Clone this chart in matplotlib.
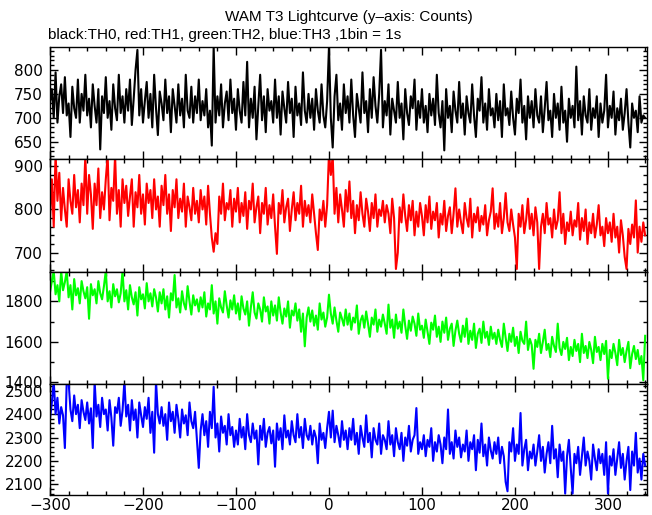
import matplotlib
matplotlib.use('Agg')
import matplotlib.pyplot as plt
import numpy as np
from matplotlib.ticker import MultipleLocator

plt.rcParams['font.family'] = 'DejaVu Sans'

# time bins (s), 2 s steps from -300 to 340
time = np.arange(-300, 341, 2)

# TH0 counts (black)
th0 = [
    735, 760, 700, 795, 690, 745, 770, 710, 785, 705, 730, 660, 765, 720, 700, 780, 690, 750, 715, 790,
    705, 740, 680, 770, 725, 690, 760, 634, 745, 710, 785, 700, 735, 675, 770, 720, 695, 790, 710, 745,
    690, 760, 715, 780, 685, 740, 800, 842, 705, 760, 690, 735, 775, 700, 750, 680, 790, 720, 664, 755,
    730, 695, 780, 710, 745, 670, 760, 725, 690, 770, 705, 740, 680, 790, 715, 700, 765, 690, 745, 710,
    780, 695, 735, 705, 760, 680, 715, 642, 848, 690, 745, 705, 770, 680, 730, 755, 695, 780, 710, 740,
    675, 760, 715, 690, 775, 705, 817, 680, 740, 700, 765, 655, 725, 790, 695, 745, 670, 760, 715, 735,
    690, 780, 700, 745, 665, 755, 720, 690, 775, 710, 740, 660, 765, 705, 730, 685, 795, 715, 690, 750,
    700, 740, 675, 760, 715, 690, 770, 705, 680, 735, 848, 700, 638, 745, 790, 695, 730, 675, 770, 710,
    745, 690, 780, 705, 660, 750, 720, 690, 795, 710, 735, 670, 760, 700, 785, 725, 690, 750, 842, 680,
    735, 705, 770, 665, 740, 715, 690, 775, 700, 730, 655, 760, 710, 685, 745, 720, 780, 675, 735, 700,
    760, 690, 725, 670, 750, 705, 740, 685, 790, 710, 680, 735, 632, 760, 700, 725, 670, 755, 715, 690,
    775, 700, 730, 665, 745, 710, 690, 770, 705, 660, 740, 715, 785, 690, 730, 675, 760, 705, 720, 680,
    750, 695, 735, 660, 770, 705, 720, 685, 755, 700, 665, 740, 710, 780, 690, 725, 655, 745, 700, 735,
    680, 760, 705, 690, 745, 670, 720, 775, 695, 715, 660, 750, 700, 730, 675, 765, 690, 715, 650, 740,
    700, 725, 680, 807, 695, 735, 665, 745, 705, 690, 760, 675, 720, 700, 745, 660, 730, 690, 715, 790,
    680, 725, 700, 755, 665, 720, 695, 740, 675, 710, 760, 690, 638, 730, 700, 715, 670, 745, 690, 705,
    700,
]

# TH1 counts (red)
th1 = [
    780, 870, 760, 930, 820, 885, 775, 850, 800, 760, 870, 820, 790, 880, 805, 845, 770, 860, 810, 925,
    790, 880, 835, 755, 860, 810, 895, 780, 840, 800, 870, 925, 775, 850, 820, 925, 790, 845, 760, 870,
    815, 855, 785, 830, 870, 760, 840, 805, 880, 790, 835, 765, 860, 815, 845, 780, 870, 800, 830, 760,
    855, 810, 880, 790, 835, 750, 845, 805, 870, 780, 825, 795, 860, 760, 830, 805, 775, 850, 790, 820,
    770, 845, 800, 830, 765, 855, 790, 735, 702, 745, 720, 830, 790, 860, 775, 815, 800, 845, 760, 825,
    795, 850, 770, 815, 785, 840, 755, 820, 800, 860, 770, 805, 830, 745, 815, 790, 850, 765, 810, 780,
    835, 760, 697, 815, 790, 845, 770, 805, 825, 750, 800, 840, 775, 815, 790, 855, 760, 820, 785, 810,
    770, 835, 790, 745, 706, 800, 775, 820, 760, 810, 930, 880, 925, 790, 850, 770, 835, 800, 760, 845,
    795, 865, 780, 820, 745, 810, 775, 840, 790, 760, 825, 795, 750, 815, 780, 835, 760, 800, 785, 820,
    770, 810, 790, 745, 825, 780, 662, 700, 805, 770, 835, 785, 750, 810, 775, 820, 740, 795, 760, 815,
    785, 740, 810, 770, 830, 755, 795, 775, 815, 735, 790, 765, 820, 750, 785, 805, 745, 790, 849, 760,
    800, 770, 745, 815, 780, 760, 825, 735, 790, 770, 805, 750, 785, 765, 810, 740, 775, 795, 849, 755,
    790, 760, 815, 745, 780, 838, 770, 750, 800, 765, 735, 662, 790, 760, 810, 745, 775, 825, 755, 790,
    740, 805, 770, 662, 760, 790, 745, 815, 765, 780, 735, 800, 755, 775, 840, 745, 790, 720, 770, 750,
    795, 740, 775, 760, 815, 730, 780, 750, 800, 720, 770, 745, 790, 735, 765, 810, 740, 760, 715, 780,
    745, 770, 725, 790, 735, 760, 700, 775, 740, 690, 662, 755, 720, 765, 735, 821, 700, 760, 725, 770,
    740,
]

# TH2 counts (green)
th2 = [
    1845, 1900, 1950, 1835, 1880, 1800, 1950, 1855, 1895, 1950, 1820, 1880, 1760, 1910, 1830, 1865, 1790, 1900, 1850, 1815,
    1870, 1714, 1885, 1830, 1860, 1790, 1900, 1840, 1810, 1875, 1950, 1800, 1850, 1770, 1885, 1825, 1860, 1795, 1840, 1950,
    1800, 1855, 1760, 1880, 1820, 1785, 1845, 1730, 1870, 1810, 1835, 1765, 1890, 1800, 1840, 1775, 1860, 1820, 1750, 1845,
    1790, 1860, 1760, 1825, 1720, 1840, 1805, 1930, 1770, 1815, 1745, 1850, 1790, 1760, 1875, 1800, 1735, 1830, 1780, 1810,
    1750, 1820, 1770, 1845, 1725, 1790, 1760, 1880, 1740, 1800, 1690, 1815, 1770, 1745, 1850, 1780, 1720, 1805, 1760, 1830,
    1740, 1790, 1710, 1825, 1765, 1735, 1800, 1680, 1770, 1845, 1745, 1715, 1790, 1760, 1700, 1820, 1750, 1775, 1690, 1800,
    1730, 1780, 1705, 1820, 1745, 1690, 1765, 1725, 1800, 1670, 1755, 1730, 1790, 1705, 1760, 1650, 1740, 1578, 1720, 1770,
    1700, 1755, 1680, 1730, 1660, 1790, 1710, 1745, 1675, 1720, 1833, 1740, 1690, 1770, 1705, 1650, 1745, 1715, 1680, 1760,
    1685, 1740, 1660, 1720, 1695, 1780, 1640, 1705, 1730, 1670, 1750, 1690, 1625, 1720, 1685, 1760, 1650, 1710, 1675, 1735,
    1690, 1640, 1784, 1670, 1710, 1620, 1735, 1665, 1700, 1645, 1760, 1680, 1615, 1705, 1655, 1725, 1690, 1630, 1740, 1660,
    1680, 1620, 1710, 1650, 1590, 1695, 1660, 1730, 1625, 1675, 1600, 1700, 1645, 1720, 1610, 1665, 1690, 1580, 1655, 1705,
    1640, 1600, 1680, 1625, 1715, 1590, 1655, 1610, 1690, 1570, 1640, 1665, 1595, 1700, 1620, 1650, 1585, 1675, 1615, 1645,
    1590, 1660, 1610, 1575, 1690, 1620, 1555, 1640, 1600, 1670, 1580, 1625, 1545, 1650, 1605, 1590, 1700, 1560, 1615, 1585,
    1467, 1610, 1575, 1640, 1545, 1600, 1660, 1560, 1590, 1525, 1625, 1580, 1550, 1690, 1570, 1535, 1600, 1565, 1620, 1510,
    1575, 1530, 1610, 1555, 1590, 1500, 1640, 1545, 1580, 1520, 1600, 1560, 1495, 1625, 1550, 1575, 1510, 1590, 1540, 1605,
    1418, 1560, 1520, 1590, 1545, 1485, 1610, 1535, 1570, 1500, 1555, 1600, 1470, 1540, 1580, 1515, 1560, 1490, 1530, 1410,
    1630,
]

# TH3 counts (blue)
th3 = [
    2380, 2450, 2540, 2400, 2470, 2360, 2430, 2395, 2255, 2540, 2540, 2420, 2370, 2480, 2400, 2440, 2340, 2460, 2410, 2375,
    2450, 2360, 2425, 2255, 2540, 2390, 2440, 2345, 2470, 2400, 2420, 2330, 2460, 2385, 2265, 2430, 2405, 2470, 2350, 2415,
    2540, 2390, 2440, 2330, 2460, 2375, 2420, 2300, 2450, 2395, 2345, 2430, 2380, 2470, 2320, 2410, 2235, 2540, 2400, 2360,
    2430, 2350, 2400, 2290, 2450, 2370, 2410, 2320, 2440, 2380, 2300, 2420, 2360, 2395, 2310, 2450, 2370, 2340, 2410, 2290,
    2170, 2330, 2400, 2310, 2370, 2260, 2410, 2340, 2517, 2300, 2360, 2240, 2390, 2320, 2350, 2270, 2400, 2310, 2345, 2260,
    2330, 2270, 2380, 2300, 2345, 2250, 2400, 2310, 2280, 2360, 2295, 2330, 2185, 2350, 2290, 2380, 2260, 2320, 2345, 2275,
    2330, 2175, 2360, 2290, 2340, 2250, 2395, 2300, 2330, 2270, 2370, 2310, 2280, 2400, 2300, 2345, 2255, 2380, 2310, 2290,
    2350, 2270, 2330, 2300, 2190, 2360, 2290, 2320, 2255, 2340, 2410, 2300, 2415, 2280, 2350, 2310, 2260, 2370, 2290, 2330,
    2250, 2340, 2290, 2380, 2270, 2320, 2230, 2350, 2300, 2260, 2395, 2280, 2320, 2215, 2340, 2290, 2270, 2360, 2230, 2310,
    2290, 2250, 2370, 2270, 2310, 2220, 2340, 2280, 2250, 2320, 2200, 2300, 2265, 2350, 2240, 2290, 2310, 2426, 2230, 2280,
    2250, 2310, 2220, 2290, 2260, 2340, 2200, 2280, 2240, 2310, 2270, 2190, 2300, 2250, 2420, 2230, 2280, 2210, 2330, 2260,
    2300, 2215, 2270, 2240, 2330, 2200, 2280, 2250, 2310, 2160, 2290, 2235, 2360, 2220, 2270, 2180, 2300, 2245, 2210, 2280,
    2230, 2300, 2190, 2260, 2220, 2110, 2070, 2280, 2240, 2340, 2200, 2270, 2230, 2405, 2180, 2250, 2290, 2160, 2240, 2210,
    2270, 2180, 2240, 2310, 2200, 2260, 2150, 2230, 2280, 2190, 2350, 2210, 2250, 2130, 2270, 2200, 2240, 2060, 2220, 2290,
    2170, 2060, 2230, 2190, 2260, 2140, 2220, 2300, 2180, 2240, 2200, 2120, 2270, 2210, 2160, 2250, 2190, 2230, 2140, 2280,
    2060, 2220, 2180, 2250, 2140, 2210, 2280, 2170, 2230, 2120, 2200, 2260, 2075, 2240, 2180, 2320, 2150, 2210, 2120, 2230,
    2180,
]

series = [th0, th1, th2, th3]
colors = ['black', '#ff0000', '#00ff00', '#0000ff']
ylims = [(614, 848), (655, 917), (1392, 1945), (2054, 2529)]
major = [50, 100, 200, 100]
minor = [10, 20, 100, 20]

W, H = 652, 515
fig = plt.figure(figsize=(W / 100, H / 100), dpi=100)

left, right = 50, 647
edges = [47, 159, 272, 384, 495]

for i in range(4):
    top_px, bot_px = edges[i], edges[i + 1]
    ax = fig.add_axes([left / W, 1 - bot_px / H, (right - left) / W, (bot_px - top_px) / H])
    ax.plot(time, series[i], color=colors[i], linewidth=1.5)
    ax.set_xlim(-300, 342)
    ax.set_ylim(*ylims[i])
    ax.xaxis.set_major_locator(MultipleLocator(100))
    ax.xaxis.set_minor_locator(MultipleLocator(20))
    ax.yaxis.set_major_locator(MultipleLocator(major[i]))
    ax.yaxis.set_minor_locator(MultipleLocator(minor[i]))
    ax.tick_params(which='both', direction='in', top=True, right=True, width=1,
                   labelsize=11, pad=5)
    ax.tick_params(which='major', length=6)
    ax.tick_params(which='minor', length=3)
    ax.tick_params(axis='x', pad=2)
    for s in ax.spines.values():
        s.set_linewidth(1.0)
    if i < 3:
        ax.tick_params(labelbottom=False)

fig.text(0.535, 1 - 17 / H, 'WAM T3 Lightcurve (y\u2013axis: Counts)',
         ha='center', va='center', fontsize=11, family='Liberation Sans')
fig.text(48 / W, 1 - 35 / H, 'black:TH0, red:TH1, green:TH2, blue:TH3 ,1bin = 1s',
         ha='left', va='center', fontsize=11, family='Liberation Sans')

fig.savefig('out.png', dpi=100)
